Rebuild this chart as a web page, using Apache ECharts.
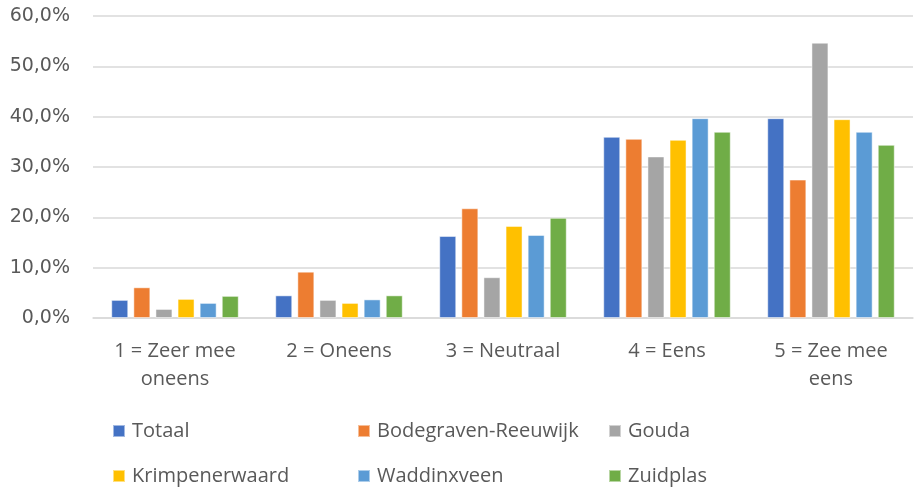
<!DOCTYPE html>
<html><head><meta charset="utf-8">
<script src="https://cdn.jsdelivr.net/npm/echarts@6/dist/echarts.min.js"></script>
<style>html,body{margin:0;padding:0;background:#fff}#c{width:914px;height:490px}</style>
</head><body><div id="c"></div>
<script>
const categories = ['1 = Zeer mee\noneens', '2 = Oneens', '3 = Neutraal', '4 = Eens', '5 = Zee mee\neens'];
const seriesNames = ['Totaal', 'Bodegraven-Reeuwijk', 'Gouda', 'Krimpenerwaard', 'Waddinxveen', 'Zuidplas'];
const totaal = [3.6, 4.5, 16.3, 36.0, 39.7];
const bodegraven = [6.1, 9.2, 21.8, 35.6, 27.5];
const gouda = [1.8, 3.6, 8.1, 32.1, 54.7];
const krimpenerwaard = [3.8, 3.0, 18.3, 35.4, 39.5];
const waddinxveen = [3.0, 3.7, 16.5, 39.7, 37.0];
const zuidplas = [4.4, 4.5, 19.9, 37.0, 34.4];
const yTicks = [0, 10, 20, 30, 40, 50, 60];

const values = [totaal, bodegraven, gouda, krimpenerwaard, waddinxveen, zuidplas];
const colors = ['#4472C4', '#ED7D31', '#A5A5A5', '#FFC000', '#5B9BD5', '#70AD47'];
const font = 'Open Sans';
const txt = '#595959';
const legendLeft = [112, 357, 608, 112, 357, 608];
const legendTop = [419, 419, 419, 464, 464, 464];

const chart = echarts.init(document.getElementById('c'));
chart.setOption({
  animation: false,
  color: colors,
  grid: { left: 93, right: 1, top: 16, bottom: 172, containLabel: false },
  legend: seriesNames.map((n, i) => ({
    left: legendLeft[i], top: legendTop[i], padding: 0, itemWidth: 12, itemHeight: 12, itemGap: 0,
    icon: 'rect', data: [n],
    textStyle: { fontFamily: font, fontSize: 20, lineHeight: 24, color: txt, padding: [0, 0, 0, 2] }
  })),
  xAxis: {
    type: 'category', data: categories,
    axisLine: { lineStyle: { color: '#d9d9d9', width: 1.5 } },
    axisTick: { show: false },
    axisLabel: { fontFamily: font, fontSize: 20, color: txt, margin: 19, lineHeight: 28, interval: 0 }
  },
  yAxis: {
    type: 'value', min: yTicks[0], max: yTicks[yTicks.length - 1], interval: 10,
    axisLine: { show: false }, axisTick: { show: false },
    splitLine: { lineStyle: { color: '#d9d9d9', width: 1.5 } },
    axisLabel: { fontFamily: 'DejaVu Sans', fontSize: 19, color: txt, margin: 23,
      formatter: v => v.toFixed(1).replace('.', ',') + '%' }
  },
  series: seriesNames.map((n, i) => ({
    name: n, type: 'bar', data: values[i], barWidth: 17, barGap: '30%',
    itemStyle: { borderColor: 'rgba(255,255,255,0.5)', borderWidth: 1 }
  }))
});
</script></body></html>
